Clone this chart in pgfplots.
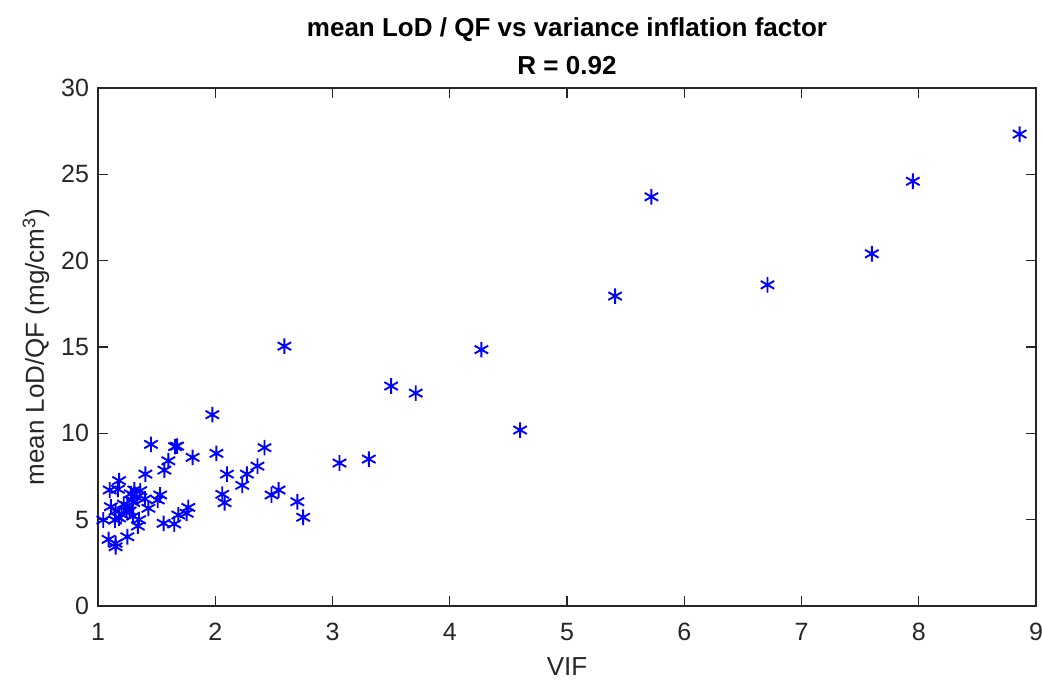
\documentclass[border=0pt]{standalone}
\usepackage{pgfplots}
\pgfplotsset{compat=1.18}
\usepackage{fontspec}
\setmainfont{Liberation Sans}
\definecolor{axgray}{rgb}{0.15,0.15,0.15}
\begin{document}
\begin{tikzpicture}
\path[use as bounding box] (-49pt,-38pt) rectangle (472pt,303pt);
\begin{axis}[
  at={(0,0)}, anchor=south west,
  scale only axis, width=469pt, height=259pt,
  xmin=1, xmax=9, ymin=0, ymax=30,
  xtick={1,2,...,9}, ytick={0,5,...,30},
  tick align=inside, tick pos=both,
  major tick length=5pt,
  axis line style={axgray, line width=0.6pt},
  every tick/.style={axgray, line width=0.6pt},
  tick label style={font=\fontsize{12.5}{14}\selectfont, text=axgray},
  xticklabel style={yshift=-5pt},
  yticklabel style={xshift=-1pt},
  /pgf/number format/assume math mode=true,
  xlabel={VIF}, ylabel={mean LoD/QF (mg/cm\textsuperscript{3})},
  label style={font=\fontsize{13}{15}\selectfont, text=axgray},
  xlabel style={yshift=-1.5pt},
  ylabel style={yshift=-1pt},
  title={\textbf{mean LoD / QF vs variance inflation factor}\\\textbf{R = 0.92}},
  title style={font=\fontsize{13}{19}\selectfont, align=center, yshift=-3pt},
]
\addplot[only marks, mark=asterisk, mark size=3.9pt, blue, line width=0.95pt] coordinates {
(8.86,27.33) (7.95,24.6) (5.72,23.7) (7.60,20.4) (6.71,18.6) (5.41,17.95)
(4.27,14.85) (2.59,15.05) (3.50,12.74) (3.71,12.33) (4.60,10.19) (3.31,8.51) (3.06,8.28)
(1.975,11.08) (1.452,9.36) (1.657,9.23) (1.675,9.26) (1.807,8.61) (2.01,8.84) (2.42,9.17)
(1.60,8.41) (1.566,7.87) (1.404,7.64) (1.18,7.26) (1.10,6.72) (1.17,6.76) (1.31,6.72) (1.36,6.68)
(2.10,7.64) (2.27,7.64) (2.36,8.10) (2.23,6.99) (2.06,6.47) (2.08,5.98) (2.48,6.43) (2.54,6.72)
(2.70,6.04) (2.75,5.14) (1.53,6.43) (1.51,6.14) (1.43,5.66) (1.77,5.71) (1.756,5.37) (1.685,5.27)
(1.56,4.79) (1.65,4.75) (1.34,4.63) (1.11,5.75) (1.045,4.98) (1.145,4.98) (1.245,5.56) (1.29,6.14)
(1.25,4.01) (1.09,3.86) (1.15,3.63) (1.15,3.43)
(1.20,5.3) (1.22,5.9) (1.27,5.5) (1.30,6.0) (1.33,6.3) (1.18,5.1) (1.25,5.8) (1.30,5.2)
(1.15,5.5) (1.35,5.0) (1.28,6.5) (1.40,6.2)
};
\end{axis}
\end{tikzpicture}
\end{document}
